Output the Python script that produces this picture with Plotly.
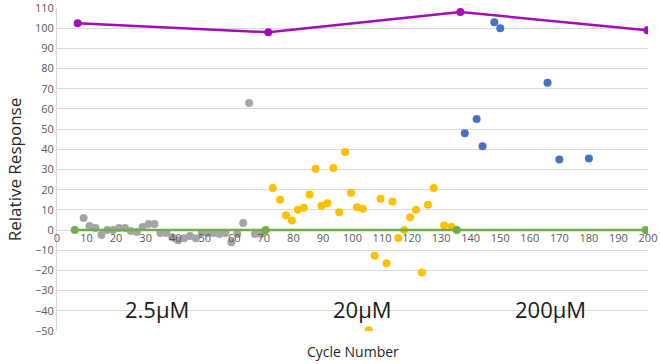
import plotly.graph_objects as go

# ---- data ----
gray_x = [9, 11, 13, 15, 17, 19, 21, 23, 25, 27, 29, 31, 33, 35, 37, 39, 41, 43, 45, 47,
          49, 51, 53, 55, 57, 59, 61, 63, 65, 67, 69]
gray_y = [6, 2, 1, -2.5, 0, 0, 1, 1, -0.5, -1, 1.5, 3, 3, -1.5, -1.5, -3.5, -5, -4, -3, -4,
          -1.5, -1.5, -1.5, -2, -1.5, -6, -2, 3.5, 63, -2, -2]

orange_x = [73, 75.5, 77.5, 79.5, 81.5, 83.5, 85.5, 87.5, 89.5, 91.5, 93.5, 95.5, 97.5, 99.5,
            101.5, 103.5, 105.5, 107.5, 109.5, 111.5, 113.5, 115.5, 117.5, 119.5, 121.5,
            123.5, 125.5, 127.5, 131, 133.5]
orange_y = [20.8, 15, 7.3, 4.7, 10.1, 11, 17.6, 30.4, 12, 13.3, 30.7, 8.8, 38.7, 18.5,
            11.3, 10.5, -49.6, -12.7, 15.5, -16.4, 14.1, -3.9, 0, 6.3, 10.1,
            -21, 12.6, 20.8, 2.2, 1.7]

blue_x = [138, 142, 144, 148, 150, 166, 170, 180]
blue_y = [48, 55, 41.5, 103, 100, 73, 35, 35.5]

purple_x = [7, 71.5, 136.5, 199.8]
purple_y = [102.5, 98, 108, 99]

green_x = [6, 70.6, 135.3, 199.2]
green_y = [0, 0, 0, 0]

labels = ["2.5\u00b5M", "20\u00b5M", "200\u00b5M"]
label_x = [34, 103.5, 167]
label_y = [-39, -39, -39]

FONT = "Open Sans, Liberation Sans, sans-serif"

fig = go.Figure()
fig.add_trace(go.Scatter(x=gray_x, y=gray_y, mode="markers",
                         marker=dict(color="#A5A5A5", size=8), showlegend=False))
fig.add_trace(go.Scatter(x=orange_x, y=orange_y, mode="markers",
                         marker=dict(color="#FFC000", size=8), showlegend=False))
fig.add_trace(go.Scatter(x=blue_x, y=blue_y, mode="markers",
                         marker=dict(color="#4472C4", size=8), showlegend=False))
fig.add_trace(go.Scatter(x=green_x, y=green_y, mode="lines+markers",
                         line=dict(color="#70AD47", width=2.5),
                         marker=dict(color="#70AD47", size=8), showlegend=False))
fig.add_trace(go.Scatter(x=purple_x, y=purple_y, mode="lines+markers",
                         line=dict(color="#A50CB5", width=2.5),
                         marker=dict(color="#A50CB5", size=8), showlegend=False))

for t, x, y in zip(labels, label_x, label_y):
    fig.add_annotation(x=x, y=y, text=t, showarrow=False,
                       font=dict(family=FONT, size=22, color="#1a1a1a"))

fig.add_annotation(xref="paper", yref="paper", x=0.5, y=-0.065, text="Cycle Number",
                   showarrow=False, yanchor="middle",
                   font=dict(family=FONT, size=14, color="#262626"))

fig.update_layout(
    width=660, height=364,
    margin=dict(l=57, r=12, t=8, b=33, autoexpand=False),
    plot_bgcolor="white", paper_bgcolor="white",
    xaxis=dict(range=[0, 200], dtick=10, tick0=0, showgrid=False, zeroline=False,
               anchor="free", position=50/160, showline=False, automargin=False,
               ticklabeloverflow="allow",
               ticks="", tickfont=dict(family=FONT, size=11, color="#595959")),
    yaxis=dict(range=[-50, 110], dtick=10, tick0=0, showgrid=True, gridcolor="#D9D9D9",
               gridwidth=1, zeroline=False, showline=True, linecolor="#D9D9D9",
               automargin=False, ticklabeloverflow="allow",
               ticks="", tickfont=dict(family=FONT, size=11, color="#595959"),
               title=dict(text="Relative Response", standoff=8,
                          font=dict(family=FONT, size=17, color="#262626"))),
)

fig.write_html("out.html", config={"displayModeBar": False},
               post_script="document.body.style.margin='0px';")
